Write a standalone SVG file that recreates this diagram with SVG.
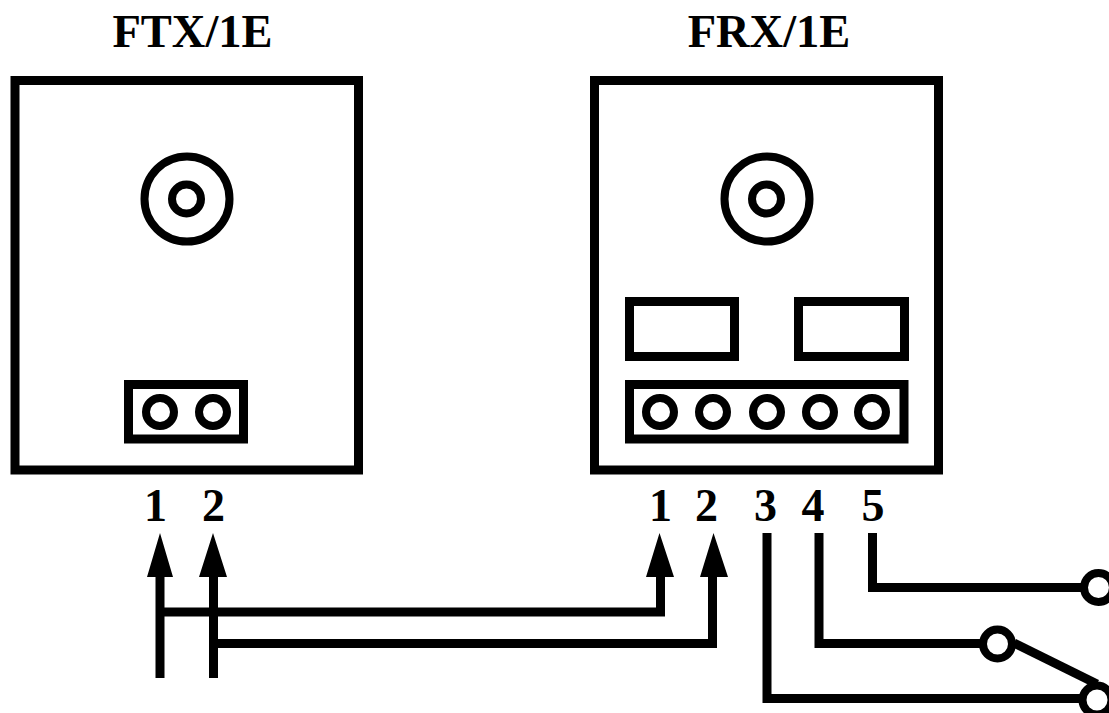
<svg xmlns="http://www.w3.org/2000/svg" width="1109" height="713" viewBox="0 0 1109 713">
<defs><style>
.s{fill:none;stroke:#000;stroke-width:9}
.w{fill:none;stroke:#000;stroke-width:8}
.c{fill:#fff;stroke:#000;stroke-width:8}
.h{fill:#000;font:bold 46.500px "Liberation Serif",serif;text-anchor:middle}
.n{fill:#000;font:bold 46px "Liberation Serif",serif;text-anchor:middle}
</style></defs>
<rect width="1109" height="713" fill="#fff"/>
<g id="ftx">
<text class="h" x="192.500" y="46.500">FTX/1E</text>
<rect class="s" x="15" y="80.500" width="343.500" height="389.500"/>
<circle class="w" cx="187" cy="199" r="42.500"/><circle class="w" cx="186.500" cy="199" r="14.500"/>
<rect class="s" x="128.500" y="384.500" width="115" height="54.500"/>
<circle class="w" cx="160" cy="412" r="14"/><circle class="w" cx="213" cy="412" r="14"/>
<text class="n" x="155.500" y="521">1</text><text class="n" x="213.500" y="521">2</text>
</g>
<g id="frx">
<text class="h" x="769" y="46.500">FRX/1E</text>
<rect class="s" x="594.500" y="80.500" width="344" height="389.500"/>
<circle class="w" cx="767" cy="199" r="42.500"/><circle class="w" cx="766.500" cy="199" r="14.500"/>
<rect class="s" x="629.500" y="301.500" width="105" height="55"/>
<rect class="s" x="798.500" y="301.500" width="106" height="55"/>
<rect class="s" x="629.500" y="384.500" width="274.500" height="54.500"/>
<circle class="w" cx="660" cy="412" r="14"/><circle class="w" cx="713" cy="412" r="14"/><circle class="w" cx="767" cy="412" r="14"/><circle class="w" cx="820" cy="412" r="14"/><circle class="w" cx="872" cy="412" r="14"/>
<text class="n" x="660.500" y="521">1</text><text class="n" x="706.500" y="521">2</text><text class="n" x="765.500" y="521">3</text><text class="n" x="813" y="521">4</text><text class="n" x="873" y="521">5</text>
</g>
<g id="connectors">
<path class="s" d="M160 678V570M213.500 678V570"/>
<path d="M160 533L173 577H147Z M213 533L227 577H199Z M659.500 533L674 577H646Z M713.500 533L728 577H700Z" fill="#000"/>
<path class="s" d="M160 612H660.500V570"/>
<path class="s" d="M213.500 643.500H712.500V570"/>
<path class="s" d="M767 533V698.500H1085"/>
<path class="s" d="M819 533V643.500H985"/>
<path class="s" d="M872.500 533V587.500H1085"/>
<path class="s" d="M1014 643L1097 684"/>
</g>
<g id="terminals">
<circle class="c" cx="997.500" cy="644" r="14.500"/><circle class="c" cx="1098.500" cy="587.500" r="14.500"/><circle class="c" cx="1097" cy="700" r="14.500"/>
</g>
</svg>
